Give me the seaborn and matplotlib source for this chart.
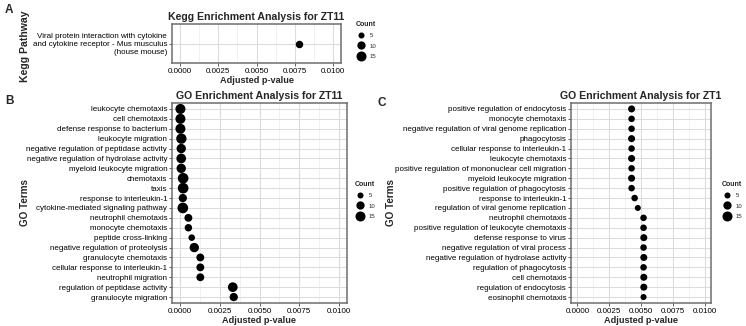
import matplotlib
matplotlib.use("Agg")
import matplotlib.pyplot as plt
from matplotlib.lines import Line2D
from matplotlib.ticker import MultipleLocator, FormatStrFormatter
import seaborn as sns
import pandas as pd
import numpy as np

# ---------------- data ----------------
kegg_terms = ["Viral protein interaction with cytokine\nand cytokine receptor - Mus musculus\n(house mouse)"]
kegg_p = [0.00775]
kegg_count = [8]

go11_terms = [
    "leukocyte chemotaxis", "cell chemotaxis", "defense response to bacterium",
    "leukocyte migration", "negative regulation of peptidase activity",
    "negative regulation of hydrolase activity", "myeloid leukocyte migration",
    "chemotaxis", "taxis", "response to interleukin-1",
    "cytokine-mediated signaling pathway", "neutrophil chemotaxis",
    "monocyte chemotaxis", "peptide cross-linking",
    "negative regulation of proteolysis", "granulocyte chemotaxis",
    "cellular response to interleukin-1", "neutrophil migration",
    "regulation of peptidase activity", "granulocyte migration",
]
go11_p = [0.00003, 0.00003, 0.00003, 0.00009, 0.00008, 0.00008, 0.00008,
          0.00020, 0.00020, 0.00018, 0.00018, 0.00053, 0.00053, 0.00074,
          0.00090, 0.00128, 0.00128, 0.00128, 0.00332, 0.00338]
go11_count = [15, 15, 15, 16, 13, 14, 13, 17, 17, 10, 17, 9, 8, 6, 13, 9, 9, 9, 14, 10]

go1_terms = [
    "positive regulation of endocytosis", "monocyte chemotaxis",
    "negative regulation of viral genome replication", "phagocytosis",
    "cellular response to interleukin-1", "leukocyte chemotaxis",
    "positive regulation of mononuclear cell migration",
    "myeloid leukocyte migration", "positive regulation of phagocytosis",
    "response to interleukin-1", "regulation of viral genome replication",
    "neutrophil chemotaxis", "positive regulation of leukocyte chemotaxis",
    "defense response to virus", "negative regulation of viral process",
    "negative regulation of hydrolase activity", "regulation of phagocytosis",
    "cell chemotaxis", "regulation of endocytosis", "eosinophil chemotaxis",
]
go1_p = [0.00426, 0.00426, 0.00426, 0.00426, 0.00426, 0.00426, 0.00426,
         0.00426, 0.00426, 0.00450, 0.00475, 0.00520, 0.00520, 0.00522,
         0.00520, 0.00522, 0.00520, 0.00522, 0.00522, 0.00520]
go1_count = [7, 6, 6, 7, 6, 7, 6, 7, 6, 6, 5, 6, 6, 7, 6, 7, 6, 7, 7, 5]

legend_breaks = [5, 10, 15]

# ---------------- style ----------------
sns.set_theme(style="white")
plt.rcParams["font.family"] = ["Liberation Sans", "DejaVu Sans"]

SIZES = (9.0, 62.0)
SIZE_NORM = (2, 18)


def area(c):
    return SIZES[0] + (c - SIZE_NORM[0]) / (SIZE_NORM[1] - SIZE_NORM[0]) * (SIZES[1] - SIZES[0])


fig = plt.figure(figsize=(7.46, 3.26), dpi=100)

axA = fig.add_axes([172 / 746, 1 - 63 / 326, 169 / 746, 39 / 326])
axB = fig.add_axes([172 / 746, 1 - 303 / 326, 175 / 746, 200 / 326])
axC = fig.add_axes([571 / 746, 1 - 303 / 326, 140 / 746, 200 / 326])


def draw(ax, terms, pvals, counts, title, ylabel, leg_xy):
    df = pd.DataFrame({"term": terms, "p": pvals, "Count": counts})
    sns.scatterplot(data=df, x="p", y="term", size="Count", sizes=SIZES,
                    size_norm=SIZE_NORM, color="black", edgecolor="black",
                    linewidth=0, legend=False, ax=ax, zorder=3)
    n = len(terms)
    ax.set_ylim(n - 1 + 0.6, -0.6)
    ax.set_xlim(-0.0005, 0.0105)
    ax.xaxis.set_major_locator(MultipleLocator(0.0025))
    ax.xaxis.set_minor_locator(MultipleLocator(0.00125))
    ax.xaxis.set_major_formatter(FormatStrFormatter("%.4f"))
    ax.grid(which="major", color="#dcdcdc", lw=0.8, zorder=0)
    ax.grid(which="minor", axis="x", color="#ececec", lw=0.5, zorder=0)
    ax.set_axisbelow(True)
    for s in ax.spines.values():
        s.set_color("#6e6e6e")
        s.set_linewidth(1.1)
    ax.tick_params(axis="both", which="major", length=2, width=0.6,
                   color="#444444", labelsize=5.8, pad=1.5, labelcolor="black",
                   bottom=True, left=True)
    ax.tick_params(axis="x", which="minor", length=0)
    ax.set_title(title, fontsize=7.6, fontweight="bold", pad=3)
    ax.set_xlabel("Adjusted p-value", fontsize=6.6, fontweight="bold", labelpad=1)
    ax.set_ylabel("")
    fig.text(ylabel[1], ylabel[2], ylabel[0], rotation=90, fontsize=ylabel[3],
             fontweight="bold", ha="center", va="center")
    handles = [Line2D([], [], ls="", marker="o", color="black",
                      markersize=np.sqrt(area(b)), markeredgewidth=0)
               for b in legend_breaks]
    leg = ax.legend(handles, [str(b) for b in legend_breaks], title="Count",
                    loc="upper left", bbox_to_anchor=leg_xy,
                    bbox_transform=fig.transFigure, frameon=False,
                    fontsize=4.3, title_fontsize=5, labelspacing=0.85,
                    handletextpad=0.7, handlelength=1.6, borderpad=0,
                    borderaxespad=0)
    leg._legend_box.align = "left"
    leg.get_title().set_fontweight("bold")


draw(axA, kegg_terms, kegg_p, kegg_count, "Kegg Enrichment Analysis for ZT11",
     ("Kegg Pathway", 25 / 746, 1 - 46 / 326, 7.6), (356 / 746, 1 - 21 / 326))
draw(axB, go11_terms, go11_p, go11_count, "GO Enrichment Analysis for ZT11",
     ("GO Terms", 25 / 746, 1 - 203 / 326, 7.1), (355 / 746, 1 - 181 / 326))
draw(axC, go1_terms, go1_p, go1_count, "GO Enrichment Analysis for ZT1",
     ("GO Terms", 391 / 746, 1 - 203 / 326, 7.1), (722 / 746, 1 - 181 / 326))

fig.text(5 / 746, 1 - 10 / 326, "A", fontsize=8.5, fontweight="bold", va="center")
fig.text(5 / 746, 1 - 101 / 326, "B", fontsize=8.5, fontweight="bold", va="center")
fig.text(378 / 746, 1 - 103 / 326, "C", fontsize=8.5, fontweight="bold", va="center")

fig.savefig("out.png", dpi=100)
